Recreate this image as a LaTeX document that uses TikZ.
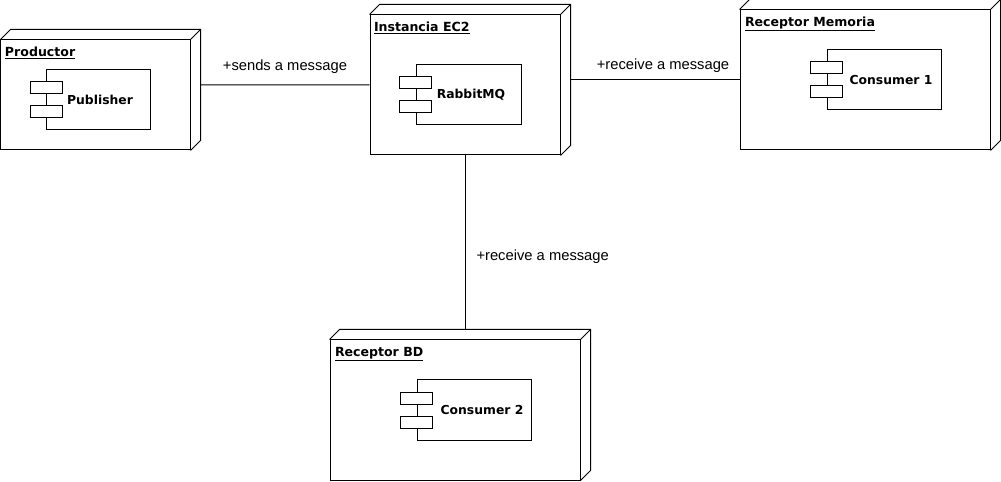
\documentclass[tikz,border=0pt]{standalone}
\usepackage{fontspec}
\setmainfont{Liberation Sans}
\newfontfamily\boxfont{DejaVu Sans}
\usetikzlibrary{calc}

\tikzset{
  nodebox/.style={draw, line width=1bp, inner sep=0pt},
  comp/.style={draw, line width=1bp, inner sep=0pt, minimum height=60bp},
  port/.style={draw, fill=white, line width=1bp, inner sep=0pt, minimum width=32bp, minimum height=12bp},
  title/.style={inner sep=0pt, font=\boxfont\bfseries\fontsize{12.6}{14}\selectfont},
  ctext/.style={inner sep=0pt, font=\boxfont\bfseries\fontsize{12.4}{14}\selectfont},
  msg/.style={inner sep=0pt, font=\fontsize{14.8}{17}\selectfont}
}

\begin{document}
\begin{tikzpicture}[x=1bp, y=-1bp, line width=1bp]
\fill[white] (0,0) rectangle (1001,482);
\useasboundingbox (0,0) rectangle (1001,482);

% deployment nodes
\node[nodebox, minimum width=189bp, minimum height=110bp] (prod) at (95.5,95) {};
\node[nodebox, minimum width=190bp, minimum height=140bp] (ec2) at (465,85) {};
\node[nodebox, minimum width=250bp, minimum height=140bp] (mem) at (865,80) {};
\node[nodebox, minimum width=250bp, minimum height=140bp] (bd) at (455,410) {};

\foreach \n in {prod,ec2,mem,bd} {
  \draw (\n.north west) -- ++(10,-10) -| ([shift={(10bp,10bp)}]\n.south east) -- (\n.south east);
  \draw (\n.north east) -- ++(10,-10);
}

\node[title, anchor=base west] (prodtitle) at ([shift={(4bp,-17bp)}]prod.north west) {\underline{Productor}};
\node[title, anchor=base west] (ec2title) at ([shift={(4bp,-17bp)}]ec2.north west) {\underline{Instancia EC2}};
\node[title, anchor=base west] (memtitle) at ([shift={(5bp,-17bp)}]mem.north west) {\underline{Receptor Memoria}};
\node[title, anchor=base west] (bdtitle) at ([shift={(5bp,-17bp)}]bd.north west) {\underline{Receptor BD}};

% components
\node[comp, minimum width=103bp] (pub) at (98.5,100) {};
\node[comp, minimum width=105bp] (rab) at (468.5,95) {};
\node[comp, minimum width=114bp] (cona) at (884,80) {};
\node[comp, minimum width=114bp] (conb) at (474,410) {};

\foreach \c in {pub,rab,cona,conb} {
  \node[port] (\c-a) at ([yshift=12bp]\c.west) {};
  \node[port] (\c-b) at ([yshift=-12bp]\c.west) {};
}

\node[ctext] (pubtext) at ([xshift=1.5bp]pub.center) {Publisher};
\node[ctext] (rabtext) at ([xshift=2.5bp]rab.center) {RabbitMQ};
\node[ctext] (conatext) at ([xshift=7bp]cona.center) {Consumer 1};
\node[ctext] (conbtext) at ([xshift=8bp]conb.center) {Consumer 2};

% connectors
\coordinate (prodback) at ([shift={(10bp,10bp)}]prod.east);
\coordinate (ec2back) at ([shift={(10bp,10bp)}]ec2.east);
\coordinate (bdtop) at ([yshift=10bp]bd.north);

\draw (prodback) -- (ec2.west)
  node[msg, midway, anchor=base, yshift=14bp] (sendlbl) {+sends a message};
\draw (ec2back |- mem.west) -- (mem.west)
  node[msg, midway, anchor=base, xshift=8bp, yshift=10bp] (recvlbla) {+receive a message};
\draw (ec2.south) -- (ec2.south |- bdtop)
  node[msg, midway, anchor=base west, xshift=11bp, yshift=-18bp] (recvlblb) {+receive a message};

\end{tikzpicture}
\end{document}
